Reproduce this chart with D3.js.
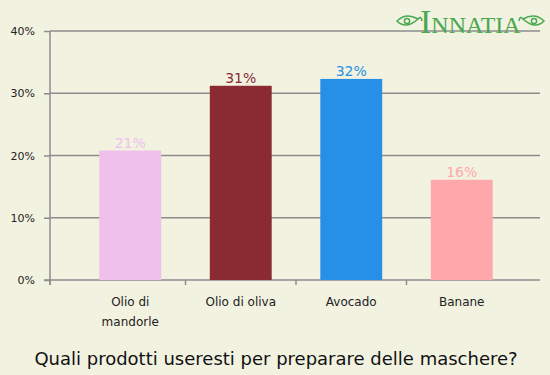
<!DOCTYPE html>
<head>
  <meta charset="utf-8">
  <title>Maschere</title>
  <script src="https://cdn.jsdelivr.net/npm/d3@7"></script>
  <style>
  body { margin: 0; background: #f2f2e1; font-family: "DejaVu Sans", sans-serif; }
  svg { display: block; }
  .grid line { stroke: #8c8c8c; stroke-width: 1.5px; }
  .axis path, .axis line { stroke: #8c8c8c; stroke-width: 1.5px; }
  .axis text { fill: #222; font-family: "DejaVu Sans", sans-serif; }
  </style>
</head>
<body>
<script>
// data
var categories = ["Olio di mandorle", "Olio di oliva", "Avocado", "Banane"];
var values = [20.8, 31.2, 32.3, 16.1];
var valueLabels = ["21%", "31%", "32%", "16%"];
var colors = ["#f0c0ec", "#8a2a32", "#2690e8", "#ffa8ab"];
var yTicks = [0, 10, 20, 30, 40];
var title = "Quali prodotti useresti per preparare delle maschere?";

var width = 550, height = 375;
var plotLeft = 50, plotRight = 540, plotTop = 31, plotBottom = 280;

var svg = d3.select("body").append("svg")
    .attr("width", width)
    .attr("height", height);

svg.append("rect").attr("width", width).attr("height", height).attr("fill", "#f2f2e1");

var y = d3.scaleLinear().domain([0, 40]).range([plotBottom, plotTop]);
var x = d3.scaleBand().domain(categories).range([75, 517])
    .paddingInner(0.44).paddingOuter(0.22);

// gridlines
svg.append("g").attr("class", "grid")
  .selectAll("line")
  .data(yTicks.slice(1))
  .enter().append("line")
    .attr("x1", plotLeft).attr("x2", plotRight)
    .attr("y1", function(d) { return y(d); })
    .attr("y2", function(d) { return y(d); });

// y axis
var yAxis = d3.axisLeft(y).tickValues(yTicks).tickSize(6).tickPadding(9)
    .tickFormat(function(d) { return d + "%"; });
svg.append("g").attr("class", "axis")
    .attr("transform", "translate(" + plotLeft + ",0)")
    .call(yAxis)
    .call(function(g) { g.select(".domain").attr("d", "M0," + plotTop + "V" + (plotBottom + 5)); })
    .selectAll("text").style("font-size", "11px");

// x axis line + ticks at band boundaries
var xg = svg.append("g").attr("class", "axis");
xg.append("line").attr("x1", plotLeft - 6).attr("x2", plotRight).attr("y1", plotBottom).attr("y2", plotBottom);
var boundaries = [plotLeft].concat(categories.slice(1).map(function(c) { return x(c) - x.step() * x.paddingInner() / 2; }));
xg.selectAll(".tk").data(boundaries).enter().append("line")
    .attr("x1", function(d) { return d; }).attr("x2", function(d) { return d; })
    .attr("y1", plotBottom).attr("y2", plotBottom + 5);

// category labels, wrapped
var catLines = [["Olio di", "mandorle"], ["Olio di oliva"], ["Avocado"], ["Banane"]];
categories.forEach(function(c, i) {
  var t = xg.append("text")
      .attr("x", x(c) + x.bandwidth() / 2)
      .attr("y", 306)
      .attr("text-anchor", "middle")
      .style("font-size", "12px");
  catLines[i].forEach(function(line, j) {
    t.append("tspan").attr("x", x(c) + x.bandwidth() / 2).attr("dy", j ? 20 : 0).text(line);
  });
});

// bars
var bars = svg.selectAll(".bar")
    .data(values)
    .enter().append("g");

bars.append("rect")
    .attr("x", function(d, i) { return x(categories[i]); })
    .attr("width", x.bandwidth())
    .attr("y", function(d) { return y(d); })
    .attr("height", function(d) { return plotBottom - y(d); })
    .attr("fill", function(d, i) { return colors[i]; });

bars.append("text")
    .attr("x", function(d, i) { return x(categories[i]) + x.bandwidth() / 2; })
    .attr("y", function(d) { return y(d) - 3; })
    .attr("text-anchor", "middle")
    .attr("fill", function(d, i) { return colors[i]; })
    .style("font-size", "14px")
    .text(function(d, i) { return valueLabels[i]; });

// title
svg.append("text")
    .attr("x", 276).attr("y", 365)
    .attr("text-anchor", "middle")
    .attr("fill", "#111")
    .style("font-size", "18px")
    .text(title);

// logo
var logo = svg.append("g").attr("fill", "none").attr("stroke", "#4aa84f").attr("stroke-width", 1.5);
[[408, 1], [533, -1]].forEach(function(o) {
  var g = logo.append("g").attr("transform", "translate(" + o[0] + ",21) scale(" + o[1] + ",1)");
  g.append("path").attr("d", "M-11,0 Q-2,-9 10,-2 Q-2,9 -11,0 Z");
  g.append("circle").attr("r", 2.6).attr("cx", -1);
  g.append("path").attr("d", "M10,-2 Q13,-6 14,0");
});
svg.append("text")
    .attr("x", 420).attr("y", 33)
    .attr("fill", "#4aa84f")
    .style("font-family", "Liberation Serif, serif")
    .style("font-size", "24px")
    .html('<tspan style="font-size:34px">I</tspan>NNATIA');
</script>
</body>
</html>
